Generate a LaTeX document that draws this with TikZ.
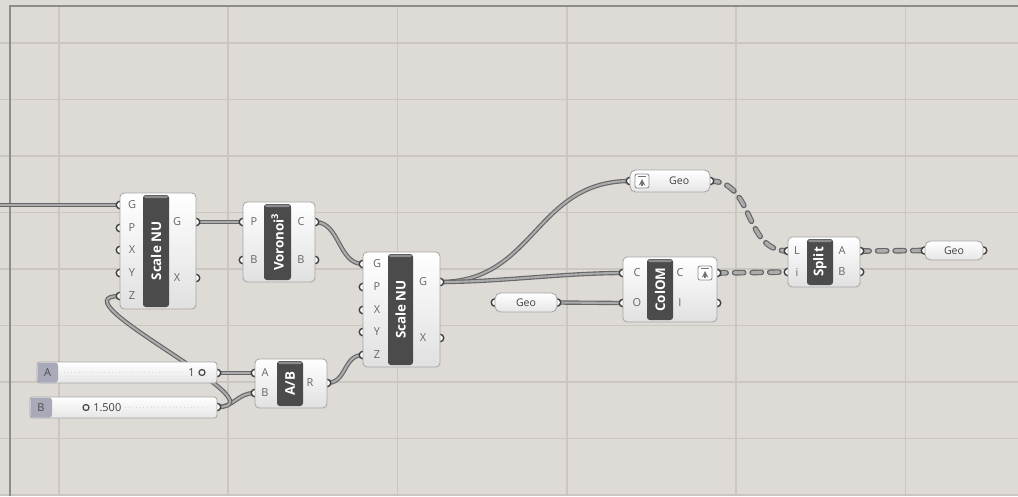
\documentclass[tikz,border=0pt]{standalone}
\usepackage{fontspec}
\setmainfont{Open Sans}
\setsansfont{Open Sans}
\usetikzlibrary{calc}
\usetikzlibrary{arrows}
\definecolor{canvas}{HTML}{DEDAD5}
\definecolor{gridln}{HTML}{CBC6C0}
\definecolor{wireout}{HTML}{666666}
\definecolor{wirein}{HTML}{ABABAB}
\definecolor{barfill}{HTML}{4B4B4B}
\definecolor{tagfill}{HTML}{A9AAB9}
\def\px{0.025cm}
\pgfdeclarelayer{grid}
\pgfdeclarelayer{wires}
\pgfsetlayers{grid,wires,main}
\tikzset{
	port/.style={circle,draw=black!75,fill=white,line width=1pt,minimum size=7.5*\px,inner sep=0pt},
	plbl/.style={font=\fontsize{7.8}{9}\selectfont,text=black!60,inner sep=0pt},
	comp body/.style={draw=black!35,top color=white,bottom color=black!12,rounded corners=3pt,line width=.6pt},
	comp bar/.style={fill=barfill,rounded corners=2pt},
	bar text/.style={rotate=90,text=white,font=\fontsize{9.5}{10}\selectfont\bfseries,inner sep=0pt},
	param/.style={draw=black!35,top color=white,bottom color=black!10,rounded corners=4pt,line width=.6pt,
		font=\fontsize{7.5}{8}\selectfont,text=black!75,inner sep=0pt},
	slider/.style={draw=black!35,top color=white,bottom color=black!10,rounded corners=2pt,line width=.6pt},
	wire/.style={draw=wireout,double=wirein,line width=.8pt,double distance=1.5pt},
	dwire/.style={draw=wireout,double=wirein,line width=.8pt,double distance=2.4pt,line cap=round,dash pattern=on 6.5pt off 6pt},
	up icon/.pic={
		\draw[black!45,fill=white,rounded corners=1.5pt,line width=.6pt] (-7,-7) rectangle (7,7);
		\draw[black!55,line width=1.1pt,-stealth] (0,5) -- (0,-2);
		\draw[black!55,line width=1pt] (-4,-4.5) -- (4,-4.5);
	},
	gh comp/.pic={
		\tikzset{/ghcomp/.cd,#1}
		\foreach \p/\y in \ghins {\node[port] (-i\p) at (0,\y) {};}
		\foreach \p/\y in \ghouts {\node[port] (-o\p) at (\ghw,\y) {};}
		\draw[comp body] (0,0) rectangle (\ghw,\ghh);
		\fill[comp bar] (\ghbar,2) rectangle (\ghbar+\ghbarw,\ghh-2);
		\fill[black!45,rounded corners=1pt] (\ghbar+1,2.5) rectangle (\ghbar+\ghbarw-1,5);
		\node[bar text] (-t) at (\ghbar+\ghbarw/2,\ghh/2) {\ghtitle};
		\foreach \p/\y in \ghins {\node[plbl] (-li\p) at (\ghix,\y) {\p};}
		\foreach \p/\y in \ghouts {\node[plbl] (-lo\p) at (\ghw-\ghox,\y) {\p};}
	},
	/ghcomp/.search also={/tikz},
	/ghcomp/.cd,
	w/.store in=\ghw,
	h/.store in=\ghh,
	bar/.store in=\ghbar,
	barw/.store in=\ghbarw,
	title/.store in=\ghtitle,
	ins/.store in=\ghins,
	outs/.store in=\ghouts,
	ix/.store in=\ghix,
	ox/.store in=\ghox,
	w=72, h=80, bar=22, barw=26, title=, ins={A/10}, outs={R/10}, ix=12, ox=16,
}
\begin{document}
\begin{tikzpicture}[x=\px,y=-\px]
	\useasboundingbox (0,0) rectangle (1018,496);
	\begin{pgfonlayer}{grid}
		\fill[canvas] (0,0) rectangle (1018,496);
		\foreach \y in {43,99.5,...,496} \draw[gridln,line width=.8pt] (0,\y) -- (1018,\y);
		\foreach \x in {59,228.3,...,1018} \draw[gridln,line width=1.2pt] (\x,6) -- (\x,496);
		\draw[black!45,line width=1pt] (10,496) -- (10,6) -- (1018,6);
	\end{pgfonlayer}
	% components
	\pic (nuA) at (120,193) {gh comp={w=76,h=116,bar=23,barw=26,title=Scale NU,ins={G/12,P/35,X/57,Y/80,Z/103},outs={G/29,X/85},ox=19}};
	\pic (vor) at (243,202) {gh comp={w=72,h=80,bar=21,barw=27,title={Voronoi\textsuperscript{3}},ins={P/20,B/58},outs={C/20,B/58},ix=11,ox=14}};
	\pic (nuB) at (363,252) {gh comp={w=77,h=115,bar=25,barw=25,title=Scale NU,ins={G/12,P/35,X/58,Y/80,Z/103},outs={G/30,X/86},ix=14,ox=17}};
	\pic (ab) at (255,359) {gh comp={w=72,h=49,bar=22,barw=26,title=A/B,ins={A/14,B/34},outs={R/24},ix=10,ox=17}};
	\pic (col) at (623,257) {gh comp={w=94,h=65,bar=24,barw=26,title=ColOM,ins={C/16,O/46},outs={C/16,I/46},ix=14,ox=37}};
	\pic (spl) at (788,237) {gh comp={w=72,h=50,bar=19,barw=26,title=Split,ins={L/14,i/35},outs={A/14,B/35},ix=9,ox=18}};
	\pic (colIc) at (705,273) {up icon};
	% geometry params
	\node[port] (geoA-i) at (630,181) {};
	\node[port] (geoA-o) at (710,181) {};
	\node[param,minimum width=80*\px,minimum height=22*\px] (geoA) at (670,181) {\hspace*{13pt}Geo};
	\pic (geoIc) at (642,181) {up icon};
	\node[port] (geoB-i) at (495,302.5) {};
	\node[port] (geoB-o) at (557,302.5) {};
	\node[param,minimum width=62*\px,minimum height=19*\px] (geoB) at (526,302.5) {Geo};
	\node[port] (geoC-i) at (925,250.5) {};
	\node[port] (geoC-o) at (983,250.5) {};
	\node[param,minimum width=58*\px,minimum height=19*\px] (geoC) at (954,250.5) {Geo};
	% sliders
	\node[port] (sldA-o) at (217,373) {};
	\draw[slider] (37,362) rectangle (217,383);
	\fill[tagfill,rounded corners=2pt] (37.5,362.5) rectangle (58,382.5);
	\draw[black!15,dotted,line width=.6pt] (64,372.5) -- (182,372.5);
	\node[plbl,text=black!70] (sldA-t) at (47.5,372.5) {A};
	\node[plbl,text=black!75,anchor=east] (sldA-v) at (195,372.5) {1};
	\node[circle,draw=black!70,line width=.9pt,minimum size=6*\px,inner sep=0pt] (sldA-g) at (202,372.5) {};
	\node[port] (sldB-o) at (217,407) {};
	\draw[slider] (30,397) rectangle (217,418);
	\fill[tagfill,rounded corners=2pt] (30.5,397.5) rectangle (52,417.5);
	\draw[black!15,dotted,line width=.6pt] (125,407.5) -- (205,407.5);
	\node[plbl,text=black!70] (sldB-t) at (41,407.5) {B};
	\node[circle,draw=black!70,line width=.9pt,minimum size=6*\px,inner sep=0pt] (sldB-g) at (86,407.5) {};
	\node[plbl,text=black!75,anchor=west] (sldB-v) at (93,407.5) {1.500};
	\coordinate (src) at (0,205);
	% wires
	\begin{pgfonlayer}{wires}
		\draw[wire] (src) -- (nuA-iG.center);
		\draw[wire] (nuA-oG.center) -- (vor-iP.center);
		\draw[wire] (vor-oC.center) .. controls +(25,0) and +(-25,0) .. (nuB-iG.center);
		\draw[wire] (nuB-oG.center) .. controls +(95,0) and +(-95,0) .. (geoA-i.center);
		\draw[wire] (nuB-oG.center) .. controls +(60,0) and +(-60,0) .. (col-iC.center);
		\draw[wire] (geoB-o.center) -- (col-iO.center);
		\draw[wire] (sldA-o.center) -- (ab-iA.center);
		\draw[wire] (sldB-o.center) .. controls +(18,0) and +(-18,0) .. (ab-iB.center);
		\draw[wire] (sldB-o.center) .. controls +(70,0) and +(-70,0) .. (nuA-iZ.center);
		\draw[wire] (ab-oR.center) .. controls +(20,0) and +(-20,0) .. (nuB-iZ.center);
		\draw[dwire] (geoA-o.center) .. controls +(45,0) and +(-45,0) .. (spl-iL.center);
		\draw[dwire] (col-oC.center) -- (spl-ii.center);
		\draw[dwire] (spl-oA.center) -- (geoC-i.center);
	\end{pgfonlayer}
\end{tikzpicture}
\end{document}
